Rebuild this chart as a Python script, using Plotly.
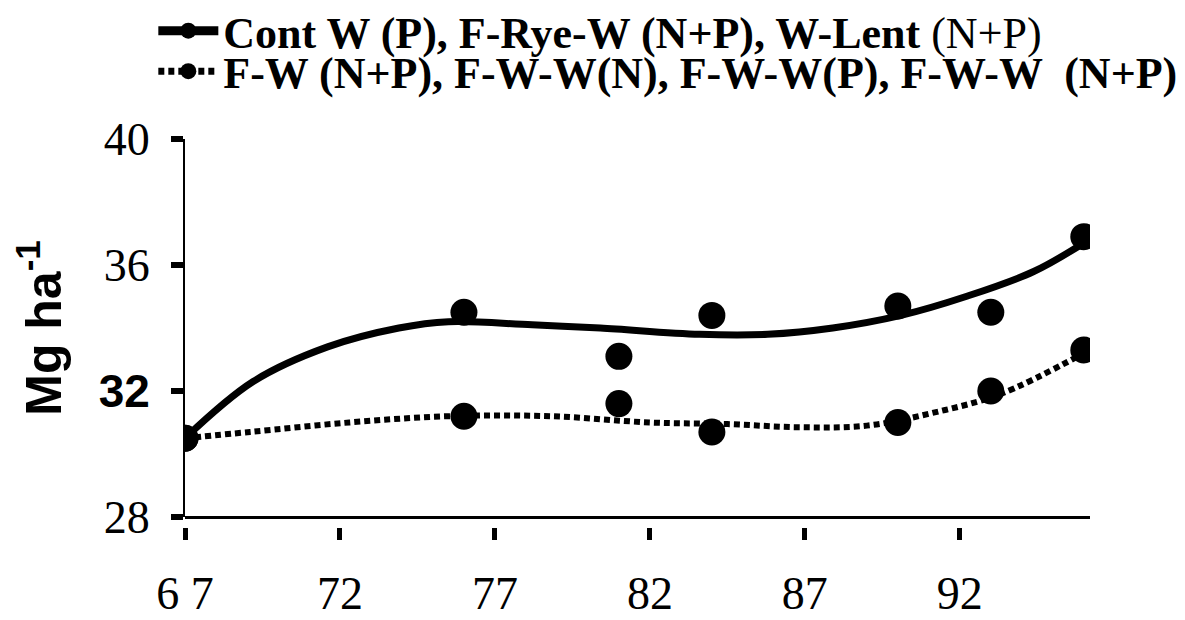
import plotly.graph_objects as go

# Observed points
years = [67, 76, 81, 84, 90, 93, 96]
cont_w = [30.5, 34.5, 33.1, 34.4, 34.7, 34.5, 36.9]
f_w = [30.5, 31.2, 31.6, 30.7, 31.0, 32.0, 33.3]

# Fitted trend curves
fit_x_cont = [67, 69.2, 71.6, 73.9, 75.5, 78.2, 80.4, 83.6, 85.8, 87.9, 90.1, 92.2, 94.4, 96]
fit_cont = [30.5, 32.3, 33.4, 34.0, 34.2, 34.1, 34.0, 33.8, 33.8, 34.0, 34.4, 35.0, 35.8, 36.7]
fit_x_fw = [67, 69.1, 72.3, 75.5, 78.8, 82, 84.5, 86.8, 89, 91.1, 93.3, 96]
fit_fw = [30.5, 30.7, 31.0, 31.2, 31.2, 31.0, 30.95, 30.85, 30.9, 31.3, 31.9, 33.2]

x_ticks = [67, 72, 77, 82, 87, 92]
x_ticktext = ["6 7", "72", "77", "82", "87", "92"]
y_ticks = [28, 32, 36, 40]
y_ticktext = ["28", "<span style='font-family:Liberation Sans;font-weight:bold'>32</span>", "36", "40"]

name_cont = "<b>Cont W (P), F-Rye-W (N+P), W-Lent</b> (N+P)"
name_fw = "<b>F-W (N+P), F-W-W(N), F-W-W(P), F-W-W  (N+P)</b>"

fig = go.Figure()
fig.add_trace(go.Scatter(x=fit_x_cont, y=fit_cont, mode="lines", line=dict(color="black", width=7, shape="spline"),
                         showlegend=False, hoverinfo="skip"))
fig.add_trace(go.Scatter(x=fit_x_fw, y=fit_fw, mode="lines", line=dict(color="black", width=6, shape="spline", dash="6px,4px"),
                         showlegend=False, hoverinfo="skip"))
fig.add_trace(go.Scatter(x=years, y=cont_w, mode="markers", marker=dict(color="black", size=27),
                         showlegend=False))
fig.add_trace(go.Scatter(x=years, y=f_w, mode="markers", marker=dict(color="black", size=27),
                         showlegend=False))
# legend entries
fig.add_trace(go.Scatter(x=[None], y=[None], mode="lines+markers", name=name_cont, legend="legend",
                         line=dict(color="black", width=9), marker=dict(color="black", size=16)))
fig.add_trace(go.Scatter(x=[None], y=[None], mode="lines+markers", name=name_fw, legend="legend2",
                         line=dict(color="black", width=7, dash="6px,4px"), marker=dict(color="black", size=16)))

legend_font = dict(family="Liberation Serif", size=44, color="black")
fig.update_layout(
    width=1185, height=620,
    paper_bgcolor="white", plot_bgcolor="white",
    margin=dict(l=177, r=103, t=131, b=70, autoexpand=False),
    font=dict(family="Liberation Serif", color="black"),
    legend=dict(x=-0.035, y=1.2575, xanchor="left", yanchor="middle", font=legend_font,
                itemwidth=60, bgcolor="rgba(0,0,0,0)"),
    legend2=dict(x=-0.035, y=1.161, xanchor="left", yanchor="middle", font=legend_font,
                 itemwidth=60, bgcolor="rgba(0,0,0,0)"),
    xaxis=dict(range=[67, 96.2], showline=True, linecolor="black", linewidth=3,
               showgrid=False, zeroline=False, ticks="", showticklabels=False,
               anchor="free", position=0.0979, automargin=False),
    xaxis2=dict(range=[67, 96.2], overlaying="x", anchor="free", position=0.074,
                showline=False, showgrid=False, zeroline=False,
                tickvals=x_ticks, ticktext=x_ticktext, ticks="outside",
                ticklen=12, tickwidth=5, tickcolor="black", automargin=False,
                tickfont=dict(family="Liberation Serif", size=46, color="black"),
                ticklabelstandoff=14),
    yaxis=dict(range=[28, 40], domain=[0.0979, 1], showline=True, linecolor="black", linewidth=2,
               showgrid=False, zeroline=False, automargin=False,
               tickvals=y_ticks, ticktext=y_ticktext, ticks="outside", ticklen=12, tickwidth=6,
               tickcolor="black", tickfont=dict(family="Liberation Serif", size=46, color="black"),
               ticklabelstandoff=12,
               title=dict(text="<b>Mg ha<sup>-1</sup></b>", font=dict(family="Liberation Sans", size=50),
                          standoff=22)),
)
# dummy trace on xaxis2 so it renders
fig.add_trace(go.Scatter(x=[67, 96.2], y=[None, None], xaxis="x2", showlegend=False, hoverinfo="skip"))

fig.write_html("out.html")
